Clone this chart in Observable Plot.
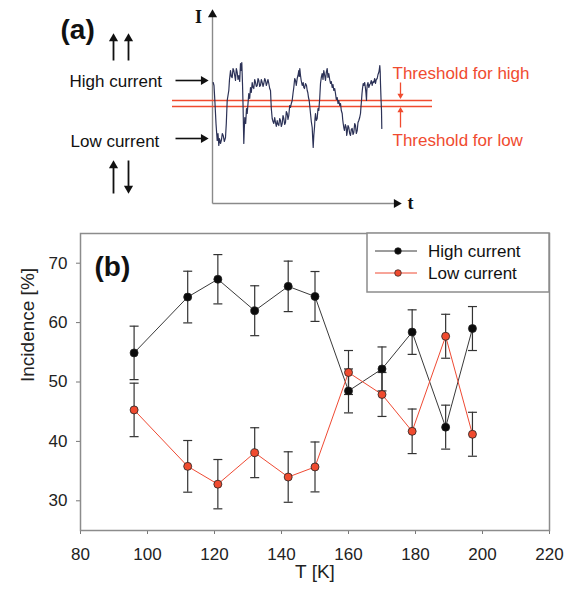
<!DOCTYPE html>
<html><head><meta charset="utf-8">
<script src="https://cdn.jsdelivr.net/npm/d3@7"></script>
<script src="https://cdn.jsdelivr.net/npm/@observablehq/plot@0.6"></script>
<style>
html,body{margin:0;padding:0;background:#fff;}
#chart{width:578px;}
#chart svg{display:block;}
</style></head><body><div id="chart"></div>
<script>
// ---------- Panel (b) data ----------
const temperatures = [96, 112, 121, 132, 142, 150, 160, 170, 179, 189, 197];
const highCurrent  = [54.9, 64.3, 67.3, 62.0, 66.1, 64.4, 48.5, 52.2, 58.4, 42.4, 59.0];
const lowCurrent   = [45.3, 35.8, 32.8, 38.1, 34.0, 35.7, 51.6, 47.9, 41.7, 57.7, 41.2];
const errorBars    = [4.5, 4.35, 4.15, 4.2, 4.25, 4.2, 3.7, 3.7, 3.75, 3.7, 3.7];
const seriesNames  = ["High current", "Low current"];
const xTicks = [80, 100, 120, 140, 160, 180, 200, 220];
const yTicks = [30, 40, 50, 60, 70];
const xLabel = "T [K]";
const yLabel = "Incidence [%]";

// ---------- Panel (a) schematic data (arbitrary units: t, I) ----------
const traceSamples = [
  [0.7,121],[1.5,118],[2.5,100],[3.5,80],[4.7,63],[5.5,70],[6.3,58],[7,65],[8,60],[9,64],
  [9.8,70],[10.7,68],[11.8,62],[13,66],[13.8,80],[14.7,103],[15.5,108],[16.3,113],[17,124],[18,133],
  [18.8,127],[19.7,126],[20.5,135],[21.3,133],[22.2,128],[23,123],[23.8,135],[24.7,131],[25.5,124],[26.3,128],
  [27.2,122],[28,140],[28.7,133],[29.3,141],[30,120],[30.5,100],[31.3,60],[31.8,75],[32.3,86],[33.2,80],
  [34,95],[34.7,90],[35.5,100],[36.3,110],[37.2,105],[38,116],[38.8,111],[39.7,121],[40.5,116],[41.3,115],
  [42.2,124],[43,121],[43.8,117],[44.7,118],[45.5,125],[46.3,123],[47.2,117],[48,118],[48.8,124],[49.7,121],
  [50.5,117],[51.3,120],[52.2,125],[53,123],[53.8,118],[54.7,121],[55.5,124],[56.3,120],[57.2,115],[58,113],
  [58.8,95],[59.7,85],[60.5,82],[61.3,80],[62.2,86],[63,81],[63.8,77],[64.7,83],[65.5,79],[66.3,78],
  [67.2,85],[68,83],[68.8,77],[69.7,80],[70.5,88],[71.3,85],[72.2,79],[73,81],[73.8,92],[74.7,90],
  [75.5,84],[76.3,88],[77.2,98],[78,96],[78.8,100],[79.7,103],[80.5,110],[81.3,116],[82.2,125],[83,123],
  [83.8,118],[84.7,125],[85.5,128],[86.3,133],[86.8,127],[87.3,135],[88,128],[88.7,123],[89.7,118],[90.7,121],
  [91.3,116],[92,115],[93,120],[94,118],[94.7,113],[95.3,111],[96,106],[96.7,103],[97.3,97],[98,90],
  [98.8,82],[99.7,76],[100.2,65],[100.7,56],[101.3,68],[102,76],[102.5,85],[103,90],[103.8,83],[104.7,85],
  [105.5,95],[106.3,93],[107.2,105],[108,120],[108.8,126],[109.7,130],[110.5,124],[111.3,133],[112.2,128],[113,123],
  [113.8,131],[114.7,135],[115.5,126],[116.3,130],[117.2,124],[118,120],[118.8,122],[119.7,116],[120.5,119],[121.3,113],
  [122.2,115],[123,110],[123.8,104],[124.7,106],[125.5,100],[126.3,103],[127.2,98],[128,100],[128.8,93],[129.7,90],
  [130.2,84],[130.7,80],[131.3,76],[132,73],[132.8,79],[133.7,76],[134.2,68],[134.7,71],[135.5,78],[136.3,76],
  [137.2,70],[138,68],[138.8,74],[139.7,75],[140.5,69],[141.3,71],[142.2,80],[143,78],[143.8,70],[144.7,73],
  [145.5,81],[146.3,83],[147.2,86],[148,90],[148.5,97],[149,103],[149.5,110],[150,115],[150.7,120],[151.3,118],
  [152.2,121],[153,115],[153.5,110],[154,103],[154.3,112],[154.7,118],[155.5,121],[156.3,116],[157.2,119],[158,120],
  [158.8,123],[159.7,118],[160.5,122],[161.3,121],[162.2,125],[163,120],[163.8,124],[164.7,125],[165.5,129],[166.3,131],
  [166.8,134],[167.3,138],[167.7,132],[168,120],[168.5,105],[169,93],[169.3,75]];
const thresholdLevels = [103, 97];
const thresholdSpan = [-40, 220];
const axisLines = [{t1:0, I1:0, t2:0, I2:187}, {t1:0, I1:0, t2:184, I2:0}];
const axisHeads = [{t:0, I:189, rot:0}, {t:184, I:0, rot:90}];
const axisNames = [{t:-14, I:186, text:"I"}, {t:198, I:0, text:"t"}];
const levelLabels = [{t:-143, I:122, text:"High current"}, {t:-142, I:62, text:"Low current"}];
const levelArrows = [{t1:-37, t2:-9, I:123}, {t1:-37, t2:-9, I:65}];
const spinArrows = [
  {t:-99, I1:143, I2:163, head:165, rot:0},
  {t:-84, I1:143, I2:163, head:165, rot:0},
  {t:-99, I1:10, I2:36, head:38, rot:0},
  {t:-84, I1:43, I2:17, head:15, rot:180}];
const thresholdLabels = [{t:180, I:130, text:"Threshold for high"}, {t:180, I:63, text:"Threshold for low"}];
const thresholdArrows = [{t:188, I1:121, I2:109, head:108, rot:180}, {t:188, I1:76, I2:92, head:93, rot:0}];
const panelLabels = ["(a)", "(b)"];

const RED = "#f04b2f";
const FONT = "'Liberation Sans', Arial, Helvetica, sans-serif";
const SERIF = "'Liberation Serif', 'Times New Roman', serif";

const trace = traceSamples.map(([t, I]) => ({t, I}));

const chartA = Plot.plot({
  width: 578, height: 215, margin: 0,
  x: {domain: [-212, 366], axis: null}, y: {domain: [-12, 203], axis: null},
  style: {fontFamily: FONT, background: "#fff"},
  marks: [
    Plot.link(axisLines, {x1: "t1", y1: "I1", x2: "t2", y2: "I2", stroke: "#8a8a8a", strokeWidth: 1.4}),
    Plot.dot(axisHeads, {x: "t", y: "I", symbol: "triangle", rotate: "rot", r: 3.4, fill: "#111", stroke: "none"}),
    Plot.text(axisNames, {x: "t", y: "I", text: "text", fontFamily: SERIF, fontWeight: "bold", fontSize: 18, fill: "#111"}),
    Plot.ruleY(thresholdLevels, {y: d => d, x1: () => thresholdSpan[0], x2: () => thresholdSpan[1], stroke: RED, strokeWidth: 1.6}),
    Plot.line(trace, {x: "t", y: "I", stroke: "#2c3257", strokeWidth: 1.2}),
    Plot.text(levelLabels, {x: "t", y: "I", text: "text", textAnchor: "start", fontSize: 17, fill: "#111"}),
    Plot.link(levelArrows, {x1: "t1", x2: "t2", y1: "I", y2: "I", stroke: "#111", strokeWidth: 1.6}),
    Plot.dot(levelArrows, {x: d => d.t2, y: "I", symbol: "triangle", rotate: 90, r: 3.3, fill: "#111", stroke: "none"}),
    Plot.link(spinArrows, {x1: "t", x2: "t", y1: "I1", y2: "I2", stroke: "#111", strokeWidth: 1.8}),
    Plot.dot(spinArrows, {x: "t", y: "head", symbol: "triangle", rotate: "rot", r: 3.4, fill: "#111", stroke: "none"}),
    Plot.text(thresholdLabels, {x: "t", y: "I", text: "text", textAnchor: "start", fontSize: 17, fill: RED}),
    Plot.link(thresholdArrows, {x1: "t", x2: "t", y1: "I1", y2: "I2", stroke: RED, strokeWidth: 1.3}),
    Plot.dot(thresholdArrows, {x: "t", y: "head", symbol: "triangle", rotate: "rot", r: 2.3, fill: RED, stroke: "none"}),
    Plot.text([panelLabels[0]], {frameAnchor: "top-left", dx: 60, dy: 19, textAnchor: "start", fontSize: 28, fontWeight: "bold", fill: "#111"})
  ]
});

// ---------- Panel (b) ----------
const rows = [];
temperatures.forEach((T, i) => {
  rows.push({series: seriesNames[0], T, v: highCurrent[i], e: errorBars[i]});
  rows.push({series: seriesNames[1], T, v: lowCurrent[i], e: errorBars[i]});
});
const lineColor = {[seriesNames[0]]: "#3a3a3a", [seriesNames[1]]: "#ef4a33"};
const dotFill = {[seriesNames[0]]: "#0b0b0b", [seriesNames[1]]: RED};
const capSymbol = {draw(ctx, size) { const r = Math.sqrt(size / Math.PI); ctx.moveTo(-r, 0); ctx.lineTo(r, 0); }};

const seriesMarks = seriesNames.map(name =>
  Plot.line(rows.filter(r => r.series === name), {x: "T", y: "v", stroke: lineColor[name], strokeWidth: 1}));

const mL = 80, mR = 29, mT = 18, mB = 59, W = 578, H = 374;
const chartB = Plot.plot({
  width: W, height: H, marginTop: mT, marginBottom: mB, marginLeft: mL, marginRight: mR,
  x: {domain: [80, 220]}, y: {domain: [25, 75]},
  style: {fontFamily: FONT, background: "#fff", color: "#222"},
  marks: [
    Plot.axisX({ticks: xTicks, tickSize: 4, tickPadding: 13, fontSize: 17, label: null, stroke: "#777", fill: "#222"}),
    Plot.axisY({ticks: yTicks, tickSize: 4, tickPadding: 9, fontSize: 17, label: null, stroke: "#777", fill: "#222"}),
    ...seriesMarks,
    Plot.ruleX(rows, {x: "T", y1: d => d.v - d.e, y2: d => d.v + d.e, stroke: "#333", strokeWidth: 1.2}),
    Plot.dot(rows, {x: "T", y: d => d.v + d.e, symbol: capSymbol, r: 4.5, stroke: "#333", strokeWidth: 1.2, fill: "none"}),
    Plot.dot(rows, {x: "T", y: d => d.v - d.e, symbol: capSymbol, r: 4.5, stroke: "#333", strokeWidth: 1.2, fill: "none"}),
    Plot.dot(rows, {x: "T", y: "v", r: 4, fill: d => dotFill[d.series], stroke: "#222", strokeWidth: 0.8}),
    Plot.frame({stroke: "#8c8c8c", strokeWidth: 1.5}),
    Plot.text([panelLabels[1]], {frameAnchor: "top-left", dx: 14, dy: 23, textAnchor: "start", fontSize: 28, fontWeight: "bold", fill: "#111"}),
    Plot.text([yLabel], {frameAnchor: "left", dx: -53, rotate: -90, fontSize: 19, fill: "#222"}),
    Plot.text([xLabel], {frameAnchor: "bottom", dy: 47, fontSize: 19, fill: "#222"})
  ]
});

// legend box anchored at the frame's top-right corner
(function () {
  const svg = d3.select(chartB);
  const boxW = 182, boxH = 59;
  const right = W - mR, top = mT;
  const g = svg.append("g").attr("transform", `translate(${right - boxW},${top})`).attr("text-anchor", "start");
  g.append("rect").attr("x", 0).attr("y", 0).attr("width", boxW).attr("height", boxH)
    .attr("fill", "#fff").attr("stroke", "#8c8c8c").attr("stroke-width", 1.5);
  seriesNames.forEach((name, i) => {
    const y = 18 + i * 22;
    g.append("line").attr("x1", 8).attr("x2", 50).attr("y1", y).attr("y2", y)
      .attr("stroke", lineColor[name]).attr("stroke-width", 1);
    g.append("circle").attr("cx", 31).attr("cy", y).attr("r", 3.3)
      .attr("fill", dotFill[name]).attr("stroke", "#222").attr("stroke-width", 0.7);
    g.append("text").attr("x", 61).attr("y", y).attr("dy", "0.35em").attr("text-anchor", "start")
      .attr("font-size", 17).attr("font-family", FONT).attr("fill", "#111").text(name);
  });
})();

const root = document.getElementById("chart");
root.appendChild(chartA);
root.appendChild(chartB);
</script>
</body></html>
